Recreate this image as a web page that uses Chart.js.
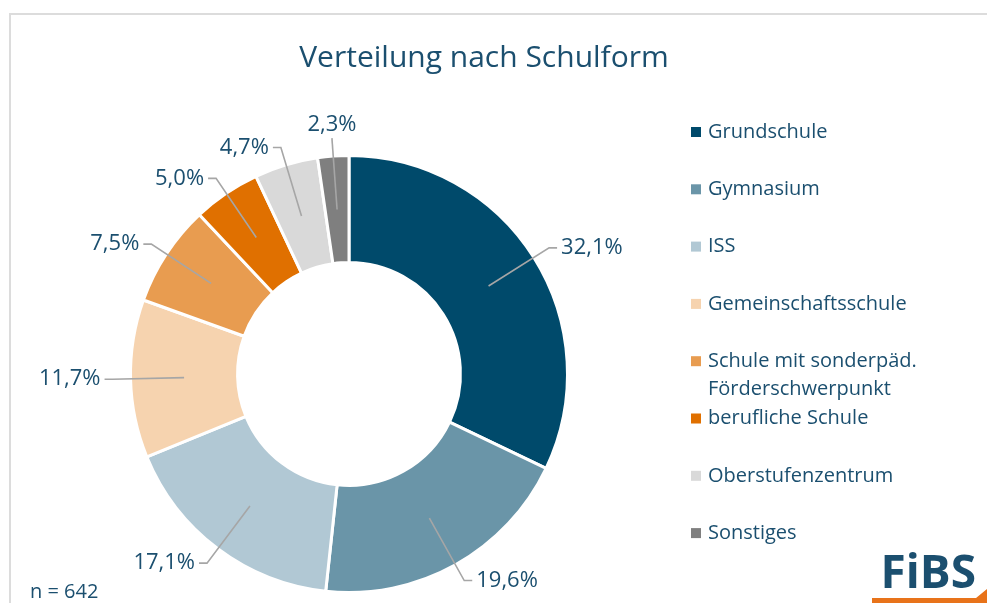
<!DOCTYPE html>
<html>
<head>
<meta charset="utf-8">
<script src="https://cdn.jsdelivr.net/npm/chart.js@4/dist/chart.umd.min.js"></script>
<style>
  html, body { margin: 0; padding: 0; background: #fff; }
  canvas { display: block; }
</style>
</head>
<body>
<canvas id="canvas" width="987" height="603"></canvas>
<script>
// data
const categories = [
  "Grundschule",
  "Gymnasium",
  "ISS",
  "Gemeinschaftsschule",
  ["Schule mit sonderpäd.", "Förderschwerpunkt"],
  "berufliche Schule",
  "Oberstufenzentrum",
  "Sonstiges",
];
const shares = [32.1, 19.6, 17.1, 11.7, 7.5, 5.0, 4.7, 2.3];
const sliceColors = [
  "#004a6b", "#6a95a8", "#b1c8d4", "#f6d3af",
  "#e89c50", "#e07000", "#d9d9d9", "#7f7f7f",
];
const chartTitle = "Verteilung nach Schulform";
const sampleNote = "n = 642";

const textColor = "#1b4f6f";
const fontName = "'Open Sans', sans-serif";

function pct(v) {
  return v.toFixed(1).replace(".", ",") + "%";
}

// frame, title, legend, labels with leader lines, footer
const decorations = {
  id: "decorations",
  beforeDraw(chart) {
    const ctx = chart.ctx;
    ctx.save();
    ctx.strokeStyle = "#dcdcdc";
    ctx.lineWidth = 2;
    ctx.beginPath();
    ctx.moveTo(10, 603);
    ctx.lineTo(10, 14);
    ctx.lineTo(987, 14);
    ctx.stroke();
    ctx.restore();
  },
  afterDraw(chart) {
    const ctx = chart.ctx;
    ctx.save();

    // title
    ctx.fillStyle = textColor;
    ctx.font = "30px " + fontName;
    ctx.textAlign = "center";
    ctx.textBaseline = "middle";
    ctx.fillText(chartTitle, 484, 58);

    // slice labels
    const arcs = chart.getDatasetMeta(0).data;
    ctx.font = "22px " + fontName;
    arcs.forEach((arc, i) => {
      const p = arc.getProps(["x", "y", "startAngle", "endAngle", "innerRadius", "outerRadius"], true);
      const mid = (p.startAngle + p.endAngle) / 2;
      const cos = Math.cos(mid), sin = Math.sin(mid);
      const rIn = (p.innerRadius + p.outerRadius) / 2;
      const rOut = p.outerRadius + 18;
      const sx = p.x + rIn * cos, sy = p.y + rIn * sin;
      const bx = p.x + rOut * cos, by = p.y + rOut * sin;
      ctx.strokeStyle = "#a6a6a6";
      ctx.lineWidth = 1.6;
      ctx.beginPath();
      ctx.moveTo(sx, sy);
      ctx.lineTo(bx, by);
      ctx.fillStyle = textColor;
      if (Math.abs(cos) < 0.12) {
        ctx.stroke();
        ctx.textAlign = "center";
        ctx.textBaseline = sin < 0 ? "bottom" : "top";
        ctx.fillText(pct(shares[i]), bx, by + (sin < 0 ? -2 : 2));
      } else {
        const dir = cos > 0 ? 1 : -1;
        ctx.lineTo(bx + dir * 8, by);
        ctx.stroke();
        ctx.textAlign = dir > 0 ? "left" : "right";
        ctx.textBaseline = "middle";
        ctx.fillText(pct(shares[i]), bx + dir * 12, by);
      }
    });

    // legend
    ctx.font = "20px " + fontName;
    ctx.textAlign = "left";
    ctx.textBaseline = "middle";
    categories.forEach((label, i) => {
      const y = 132 + i * 57.3;
      ctx.fillStyle = sliceColors[i];
      ctx.fillRect(691, y - 5, 10, 10);
      ctx.fillStyle = textColor;
      const lines = Array.isArray(label) ? label : [label];
      lines.forEach((line, j) => ctx.fillText(line, 708, y + j * 28));
    });

    // sample size
    ctx.font = "20px " + fontName;
    ctx.fillText(sampleNote, 30, 592);

    // logo
    ctx.font = "bold 46px " + fontName;
    ctx.textAlign = "right";
    ctx.textBaseline = "alphabetic";
    ctx.fillText("FiBS", 976, 588);
    ctx.fillStyle = "#e8731a";
    ctx.beginPath();
    ctx.moveTo(872, 603);
    ctx.lineTo(872, 598);
    ctx.lineTo(976, 598);
    ctx.lineTo(987, 589);
    ctx.lineTo(987, 603);
    ctx.closePath();
    ctx.fill();

    ctx.restore();
  },
};

let ctx = document.getElementById("canvas").getContext("2d");
let chart = new Chart(ctx, {
  type: "doughnut",
  data: {
    labels: categories,
    datasets: [
      {
        data: shares,
        backgroundColor: sliceColors,
        borderColor: "#ffffff",
        borderWidth: 3,
      },
    ],
  },
  options: {
    responsive: false,
    animation: false,
    cutout: "51%",
    layout: {
      padding: { top: 154, left: 129, right: 418, bottom: 9 },
    },
    plugins: {
      legend: { display: false },
      title: { display: false },
      tooltip: { enabled: false },
    },
  },
  plugins: [decorations],
});
</script>
</body>
</html>
